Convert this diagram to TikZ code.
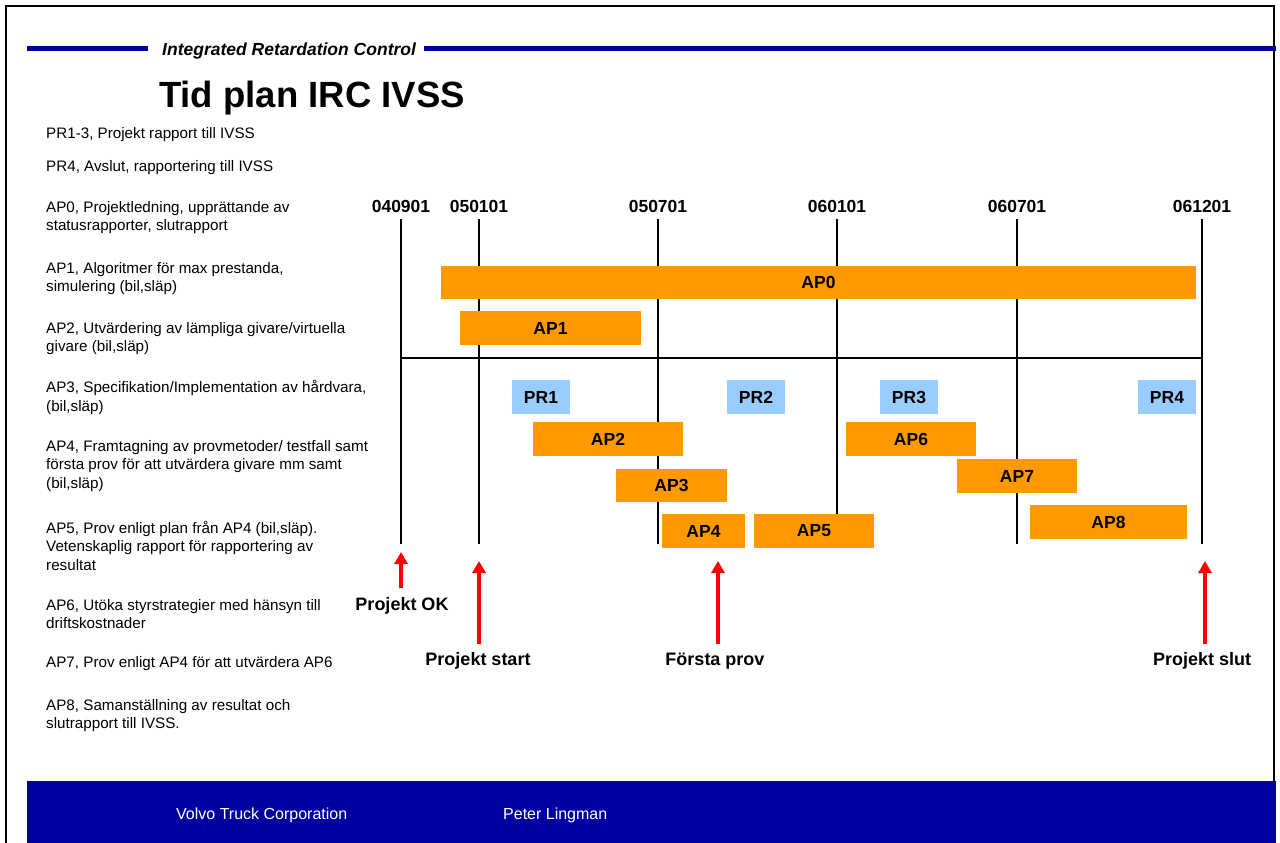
\documentclass[tikz,border=0pt]{standalone}
\usepackage{fontspec}
\setmainfont{Liberation Sans}
\usetikzlibrary{arrows.meta}
\definecolor{volvoblue}{RGB}{0,0,160}
\definecolor{barorange}{RGB}{255,153,0}
\definecolor{prblue}{RGB}{153,204,255}
\tikzset{
	aptext/.style={anchor=west, align=left, inner sep=0pt, font=\fontsize{15.2}{18.5}\selectfont},
	datelbl/.style={inner xsep=0pt, inner ysep=6.5pt, font=\bfseries\fontsize{17.5}{20}\selectfont},
	gridline/.style={line width=1.2pt},
	apbar/.style={fill=barorange, inner sep=0pt, font=\bfseries\fontsize{17.5}{20}\selectfont},
	prbox/.style={fill=prblue, inner sep=0pt, font=\bfseries\fontsize{17.5}{20}\selectfont},
	milestone/.style={draw=red, line width=4pt, -{Triangle[width=13pt,length=12pt]}},
	mslbl/.style={inner sep=0pt, font=\bfseries\fontsize{18}{21}\selectfont},
	headline/.style={volvoblue, line width=5pt}
}

\begin{document}
\begin{tikzpicture}[x=1pt,y=-1pt]
			\useasboundingbox (0,0) rectangle (1280,843);
			\draw[line width=2.2pt] (6,843) -- (6,6) -- (1274,6) -- (1274,781);
			\fill[volvoblue] (27,781) rectangle (1276,843);
			\node at (176,819) [anchor=base west, inner sep=0pt, text=white, font=\fontsize{16}{18}\selectfont] (corp) {Volvo Truck Corporation};
			\node at (503,819) [anchor=base west, inner sep=0pt, text=white, font=\fontsize{16}{18}\selectfont] (author) {Peter Lingman};
			\draw[headline] (27,49) -- (148,49);
			\draw[headline] (424,49) -- (1276,49);
			\node at (162,56) [anchor=base west, inner sep=0pt, font=\bfseries\itshape\fontsize{17.5}{20}\selectfont] (project) {Integrated Retardation Control};
			\node at (159,107) [anchor=base west, inner sep=0pt, font=\bfseries\fontsize{36.5}{42}\selectfont] (title) {Tid plan IRC IVSS};
			\node at (46,135) [aptext] (tpr13) {PR1-3, Projekt rapport till IVSS};
			\node at (46,167.5) [aptext] (tpr4) {PR4, Avslut, rapportering till IVSS};
			\node at (46,217.5) [aptext] (tap0) {AP0, Projektledning, upprättande av\\statusrapporter, slutrapport};
			\node at (46,278.5) [aptext] (tap1) {AP1, Algoritmer för max prestanda,\\simulering (bil,släp)};
			\node at (46,338.5) [aptext] (tap2) {AP2, Utvärdering av lämpliga givare/virtuella\\givare (bil,släp)};
			\node at (46,397.5) [aptext] (tap3) {AP3, Specifikation/Implementation av hårdvara,\\(bil,släp)};
			\node at (46,466) [aptext] (tap4) {AP4, Framtagning av provmetoder/ testfall samt\\första prov för att utvärdera givare mm samt\\(bil,släp)};
			\node at (46,545.5) [aptext] (tap5) {AP5, Prov enligt plan från AP4 (bil,släp).\\Vetenskaplig rapport för rapportering av\\resultat};
			\node at (46,614) [aptext] (tap6) {AP6, Utöka styrstrategier med hänsyn till\\driftskostnader};
			\node at (46,664) [aptext] (tap7) {AP7, Prov enligt AP4 för att utvärdera AP6};
			\node at (46,715.5) [aptext] (tap8) {AP8, Samanställning av resultat och\\slutrapport till IVSS.};
			\foreach \x/\d in {401/040901, 479/050101, 658/050701, 837/060101, 1017/060701, 1202/061201} {
				\node at (\x,206) [datelbl] (d\d) {\d};
				\coordinate (e\d) at (\x,544);
				\draw[gridline] (d\d) -- (e\d);
			}
			\draw[gridline] (e040901 |- 0,358) -- (e061201 |- 0,358);
			\foreach \n/\xa/\xb/\ya/\yb in {AP0/441/1196/266/299, AP1/460/641/311/345, AP2/533/683/422/456, AP3/616/727/469/502, AP4/662/745/514/548, AP5/754/874/514/548, AP6/846/976/422/456, AP7/957/1077/459/493, AP8/1030/1187/505/539}
				\node at ({(\xa+\xb)/2},{(\ya+\yb)/2}) [apbar, minimum width={(\xb-\xa)*1pt}, minimum height={(\yb-\ya)*1pt}] (\n) {\n};
			\foreach \n/\xa/\xb in {PR1/512/570, PR2/727/785, PR3/880/938, PR4/1138/1196}
				\node at ({(\xa+\xb)/2},397) [prbox, minimum width={(\xb-\xa)*1pt}, minimum height=34pt] (\n) {\n};
			\node at (402,606) [mslbl] (okl) {Projekt OK};
			\node at (478,661) [mslbl] (startl) {Projekt start};
			\node at (715,661) [mslbl] (provl) {Första prov};
			\node at (1202,661) [mslbl] (slutl) {Projekt slut};
			\coordinate (okbase) at (401,588);
			\coordinate (oktip) at (401,552);
			\coordinate (startbase) at (479,644);
			\coordinate (starttip) at (479,561);
			\coordinate (provbase) at (718,644);
			\coordinate (provtip) at (718,561);
			\coordinate (slutbase) at (1205,644);
			\coordinate (sluttip) at (1205,561);
			\draw[milestone] (okbase) -- (oktip);
			\draw[milestone] (startbase) -- (starttip);
			\draw[milestone] (provbase) -- (provtip);
			\draw[milestone] (slutbase) -- (sluttip);
		\end{tikzpicture}
\end{document}
